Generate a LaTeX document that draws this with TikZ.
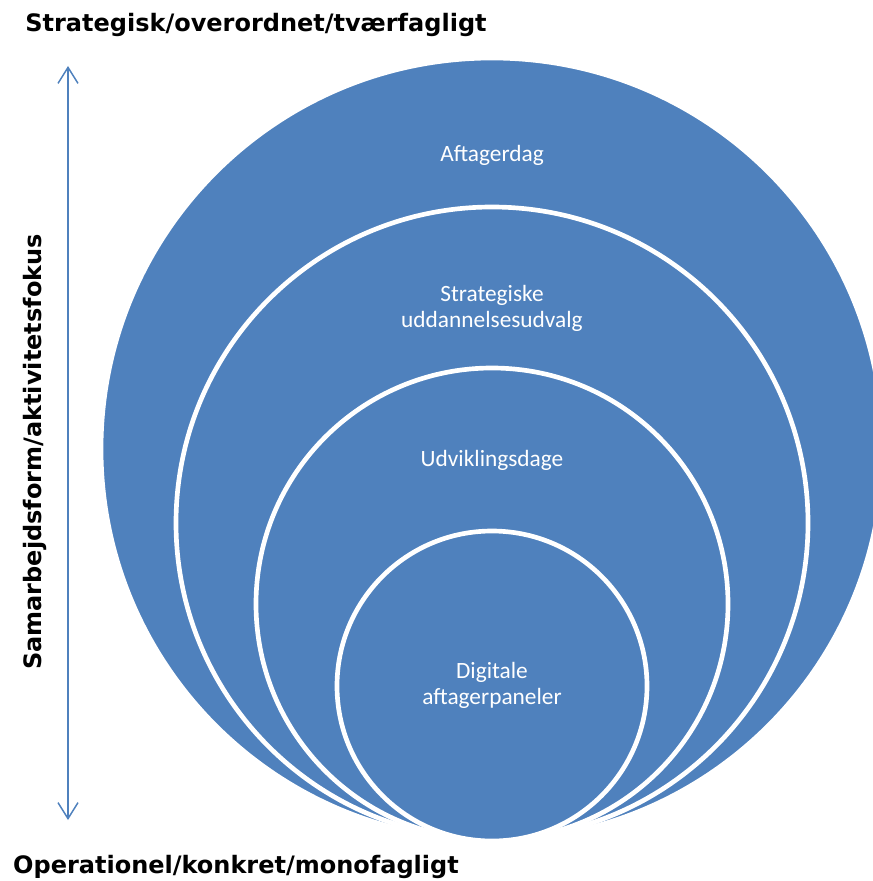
\documentclass[tikz,border=0pt]{standalone}
\usepackage{fontspec}
\setmainfont{Carlito}
\newfontfamily\headfont{DejaVu Sans}
\usetikzlibrary{arrows.meta}
\definecolor{ringblue}{HTML}{4F81BD}
\begin{document}
\begin{tikzpicture}[x=0.75pt,y=-0.75pt,line join=round,line cap=round,
  ring/.style={fill=ringblue,draw=white,line width=3.5pt},
  ringtext/.style={text=white,font=\fontsize{17.5}{19.5}\selectfont,align=center},
  headtext/.style={font=\headfont\bfseries\fontsize{18}{21}\selectfont}]
\useasboundingbox (0,0) rectangle (873,881);
\clip (0,0) rectangle (873,881);
% rings, outer to inner
\foreach \cy/\r in {449/391,523/316,604/236,686/155}
  \draw[ring] (492,\cy) circle[radius=\r*0.75pt];
\node[ringtext] (aftager) at (492,155) {Aftagerdag};
\node[ringtext] (strategi) at (492,308) {Strategiske\\uddannelsesudvalg};
\node[ringtext] (udvikling) at (492,460) {Udviklingsdage};
\node[ringtext] (digital) at (492,685) {Digitale\\aftagerpaneler};
% axis
\path (68,66) coordinate (atop) (68,820) coordinate (abot);
\draw[ringblue,line width=1.1pt,{Straight Barb[length=12pt,width=15pt]}-{Straight Barb[length=12pt,width=15pt]}] (atop) -- (abot);
\node[headtext] (top) at (256,25) {Strategisk/overordnet/tværfagligt};
\node[headtext] (bottom) at (236,867) {Operationel/konkret/monofagligt};
\node[headtext,rotate=90] (side) at (35,452) {Samarbejdsform/aktivitetsfokus};
\end{tikzpicture}
\end{document}
